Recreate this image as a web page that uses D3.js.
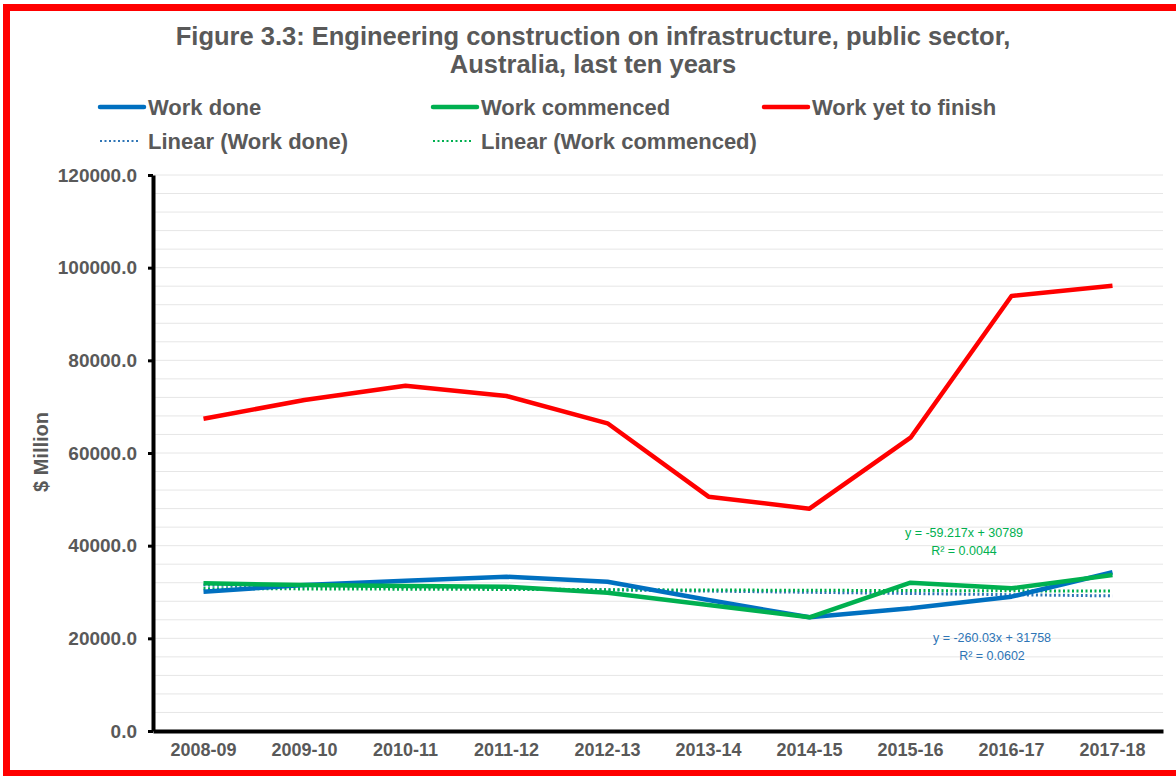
<!DOCTYPE html>
<html>
<head>
<meta charset="utf-8">
<script src="https://cdn.jsdelivr.net/npm/d3@7"></script>
<style>
  body { margin: 0; background: #fff; }
  svg { display: block; font-family: "Liberation Sans", Arial, sans-serif; }
</style>
</head>
<body>
<svg id="chart" width="1176" height="776"></svg>
<script>
// years on the x axis
var years = ["2008-09", "2009-10", "2010-11", "2011-12", "2012-13",
             "2013-14", "2014-15", "2015-16", "2016-17", "2017-18"]

// $ million
var workDone = [30060, 31510, 32440, 33300, 32230, 28270, 24540, 26480, 28990, 34250]
var workCommenced = [31870, 31510, 31300, 31150, 29860, 27190, 24540, 32010, 30800, 33670]
var workYetToFinish = [67400, 71440, 74520, 72300, 66410, 50570, 47980, 63300, 93880, 96110]

// excel linear trendlines (x = 1..10) as printed on the chart
var trendNames = ["Work done", "Work commenced"]
var trendSlopes = [-260.03, -59.217]
var trendIntercepts = [31758, 30789]
var trendR2 = ["0.0602", "0.0044"]

var yTicks = [0, 20000, 40000, 60000, 80000, 100000, 120000]

var series = [
    { name: "Work done", values: workDone, color: "#0070C0" },
    { name: "Work commenced", values: workCommenced, color: "#00B050" },
    { name: "Work yet to finish", values: workYetToFinish, color: "#FF0000" }
]

var grey = "#595959"
var svg = d3.select("#chart")

// red frame (top, left, bottom only - right edge is cropped off)
svg.append("rect").attr("x", 3).attr("y", 4).attr("width", 1173).attr("height", 7).attr("fill", "#FF0000")
svg.append("rect").attr("x", 3).attr("y", 4).attr("width", 7).attr("height", 772).attr("fill", "#FF0000")
svg.append("rect").attr("x", 3).attr("y", 770).attr("width", 1173).attr("height", 6).attr("fill", "#FF0000")

var plotLeft = 153, plotRight = 1163, plotTop = 175, plotBottom = 731

var x = d3.scaleBand().domain(years).range([plotLeft, plotRight])
var cx = d => x(d) + x.bandwidth() / 2
var y = d3.scaleLinear().domain([0, 120000]).range([plotBottom, plotTop])

// light gridlines every 4000
svg.append("g")
    .selectAll("line")
    .data(d3.range(4000, 120001, 4000))
    .enter()
        .append("line")
        .attr("x1", plotLeft).attr("x2", plotRight)
        .attr("y1", d => y(d)).attr("y2", d => y(d))
        .attr("stroke", "#E6E6E6")
        .attr("stroke-width", 1)

// y axis
var yAxis = svg.append("g")
    .attr("transform", "translate(" + plotLeft + ",0)")
    .call(d3.axisLeft(y).tickValues(yTicks).tickSize(5).tickSizeOuter(0).tickPadding(11).tickFormat(d3.format(".1f")))
yAxis.select(".domain").attr("stroke", "#000").attr("stroke-width", 4)
yAxis.selectAll(".tick line").attr("stroke", "#000").attr("stroke-width", 3)
yAxis.selectAll(".tick text")
    .attr("fill", grey)
    .style("font-size", "19px")
    .style("font-weight", "bold")

// x axis
var xAxis = svg.append("g")
    .attr("transform", "translate(0," + plotBottom + ")")
    .call(d3.axisBottom(x).tickSize(0).tickPadding(12))
xAxis.select(".domain").attr("stroke", "#000").attr("stroke-width", 4)
xAxis.selectAll(".tick text")
    .attr("fill", grey)
    .style("font-size", "18px")
    .style("font-weight", "bold")

// axis title
svg.append("text")
    .attr("transform", "translate(48,452) rotate(-90)")
    .attr("text-anchor", "middle")
    .attr("fill", grey)
    .style("font-size", "20px")
    .style("font-weight", "bold")
    .text("$ Million")

// trendlines
var trendColors = ["#2E75B6", "#00B050"]
trendNames.forEach(function(n, i) {
    var first = 1, last = years.length
    svg.append("line")
        .attr("x1", cx(years[0])).attr("x2", cx(years[last - 1]))
        .attr("y1", y(trendSlopes[i] * first + trendIntercepts[i]))
        .attr("y2", y(trendSlopes[i] * last + trendIntercepts[i]))
        .attr("stroke", trendColors[i])
        .attr("stroke-width", 3)
        .attr("stroke-dasharray", "2,2.5")
})

// data lines
var line = d3.line()
    .x((d, i) => cx(years[i]))
    .y(d => y(d))

svg.append("g")
    .selectAll("path")
    .data(series)
    .enter()
        .append("path")
        .attr("d", d => line(d.values))
        .attr("fill", "none")
        .attr("stroke", d => d.color)
        .attr("stroke-width", 4.5)
        .attr("stroke-linejoin", "round")

// trendline equations
var eqPos = [{ x: 992, y: 642 }, { x: 964, y: 537 }]
trendNames.forEach(function(n, i) {
    var t = svg.append("text")
        .attr("text-anchor", "middle")
        .attr("fill", trendColors[i])
        .style("font-size", "12.5px")
    var sign = trendIntercepts[i] >= 0 ? " + " : " - "
    t.append("tspan")
        .attr("x", eqPos[i].x).attr("y", eqPos[i].y)
        .text("y = " + trendSlopes[i] + "x " + sign + Math.abs(trendIntercepts[i]))
    t.append("tspan")
        .attr("x", eqPos[i].x).attr("y", eqPos[i].y + 18)
        .text("R² = " + trendR2[i])
})

// title
svg.append("text")
    .attr("text-anchor", "middle")
    .attr("fill", grey)
    .style("font-size", "25.5px")
    .style("font-weight", "bold")
    .selectAll("tspan")
    .data(["Figure 3.3: Engineering construction on infrastructure, public sector,",
           "Australia, last ten years"])
    .enter()
        .append("tspan")
        .attr("x", 593)
        .attr("y", (d, i) => 45 + i * 28)
        .text(d => d)

// legend
var legendItems = [
    { label: "Work done", color: "#0070C0", dotted: false, x: 100, y: 107 },
    { label: "Work commenced", color: "#00B050", dotted: false, x: 433, y: 107 },
    { label: "Work yet to finish", color: "#FF0000", dotted: false, x: 764, y: 107 },
    { label: "Linear (Work done)", color: "#2E75B6", dotted: true, x: 100, y: 141 },
    { label: "Linear (Work commenced)", color: "#00B050", dotted: true, x: 433, y: 141 }
]

var legend = svg.append("g")
    .selectAll("g")
    .data(legendItems)
    .enter()
        .append("g")
        .attr("transform", d => "translate(" + d.x + "," + d.y + ")")

legend.append("line")
    .attr("x1", 0).attr("x2", d => d.dotted ? 38 : 44)
    .attr("stroke", d => d.color)
    .attr("stroke-width", d => d.dotted ? 2 : 4.5)
    .attr("stroke-dasharray", d => d.dotted ? "2,2.5" : null)
    .attr("stroke-linecap", d => d.dotted ? "butt" : "round")

legend.append("text")
    .attr("x", 48)
    .attr("dy", "0.36em")
    .attr("fill", grey)
    .style("font-size", "22px")
    .style("font-weight", "bold")
    .text(d => d.label)
</script>
</body>
</html>
